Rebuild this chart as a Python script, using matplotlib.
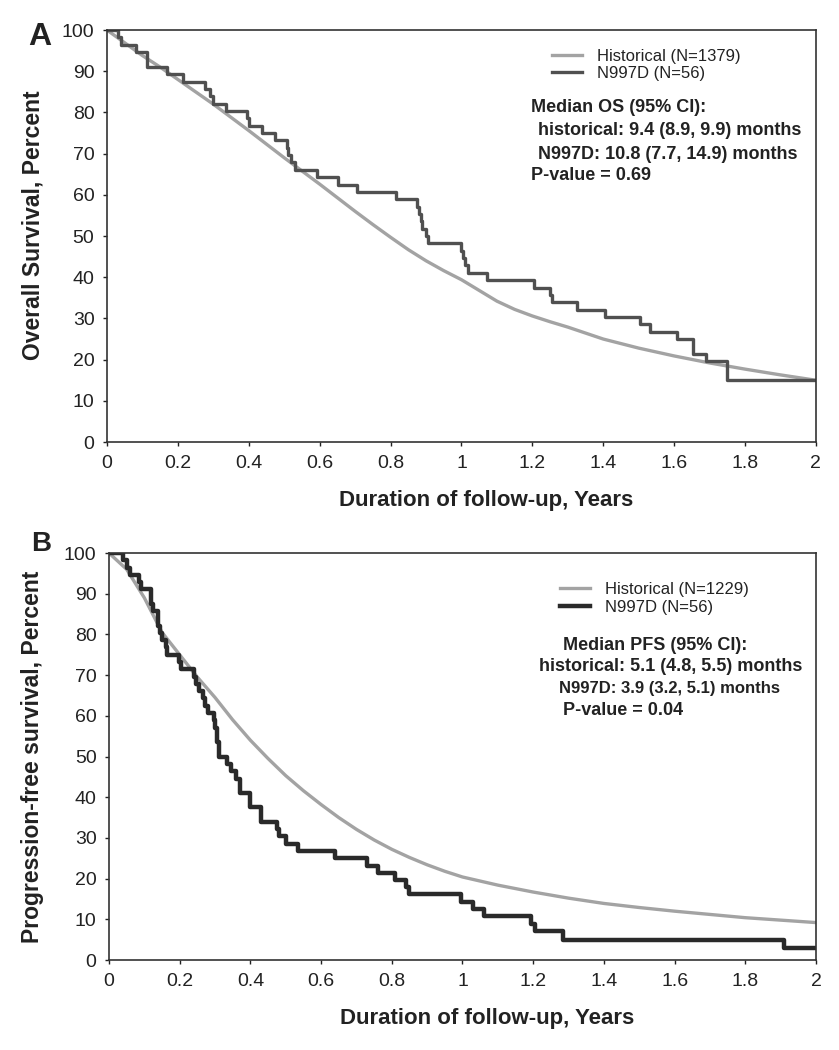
import matplotlib
matplotlib.use("Agg")
import matplotlib.pyplot as plt

plt.rcParams['font.family'] = ['Liberation Sans', 'DejaVu Sans']

# Panel A: overall survival
os_hist_t = [0, 0.05, 0.1, 0.15, 0.2, 0.25, 0.3, 0.35, 0.4, 0.45, 0.5, 0.55, 0.6, 0.65, 0.7, 0.75,
             0.8, 0.85, 0.9, 0.95, 1.0, 1.05, 1.1, 1.15, 1.2, 1.25, 1.3, 1.4, 1.5, 1.6, 1.7, 1.8, 1.9, 2.0]
os_hist_v = [100, 96.9, 93.8, 91, 88, 85, 82, 78.8, 75.6, 72.3, 69, 65.8, 62.6, 59.3, 56, 52.8,
             49.7, 46.7, 44, 41.6, 39.4, 36.8, 34.2, 32.2, 30.6, 29.2, 27.9, 25, 22.8, 20.9, 19.2, 17.7, 16.3, 15.0]

os_n_t = [0, 0.03, 0.04, 0.083, 0.112, 0.168, 0.215, 0.276, 0.29, 0.30,
          0.337, 0.394, 0.40, 0.436, 0.474, 0.507, 0.512, 0.52, 0.53, 0.592,
          0.652, 0.705, 0.815, 0.875, 0.88, 0.885, 0.89, 0.90, 0.905, 1.0,
          1.004, 1.01, 1.019, 1.071, 1.205, 1.25, 1.255, 1.325, 1.405, 1.504,
          1.532, 1.607, 1.654, 1.691, 1.748, 2.0]
os_n_v = [100, 98.2, 96.4, 94.6, 91.1, 89.3, 87.5, 85.7, 83.9, 82.1,
          80.4, 78.6, 76.8, 75.0, 73.2, 71.4, 69.6, 67.9, 66.1, 64.3,
          62.5, 60.7, 58.9, 57.1, 55.4, 53.6, 51.8, 50.0, 48.2, 46.4,
          44.6, 42.9, 41.1, 39.3, 37.5, 35.7, 33.9, 32.1, 30.4, 28.6,
          26.8, 25.0, 21.4, 19.6, 15.0, 15.0]

# Panel B: progression-free survival
pfs_hist_t = [0, 0.05, 0.1, 0.15, 0.2, 0.25, 0.3, 0.35, 0.4, 0.45, 0.5, 0.55, 0.6, 0.65, 0.7, 0.75,
              0.8, 0.85, 0.9, 0.95, 1.0, 1.1, 1.2, 1.3, 1.4, 1.5, 1.6, 1.7, 1.8, 1.9, 2.0]
pfs_hist_v = [100, 96, 89, 80.5, 75, 69.5, 64.5, 59, 54, 49.5, 45.3, 41.6, 38.2, 35, 32.1, 29.5,
              27.2, 25.2, 23.4, 21.8, 20.4, 18.4, 16.7, 15.2, 13.9, 12.9, 12, 11.2, 10.4, 9.8, 9.2]

pfs_n_t = [0, 0.04, 0.05, 0.06, 0.085, 0.09, 0.12, 0.125, 0.14, 0.145,
           0.15, 0.16, 0.165, 0.197, 0.205, 0.24, 0.245, 0.255, 0.265, 0.272,
           0.28, 0.296, 0.30, 0.305, 0.31, 0.333, 0.345, 0.36, 0.37, 0.40,
           0.43, 0.475, 0.48, 0.50, 0.535, 0.64, 0.73, 0.76, 0.81, 0.84,
           0.85, 0.995, 1.03, 1.06, 1.195, 1.205, 1.285, 1.91, 2.0]
pfs_n_v = [100, 98.2, 96.4, 94.6, 92.9, 91.1, 87.5, 85.7, 82.1, 80.4,
           78.6, 76.8, 75.0, 73.2, 71.4, 69.6, 67.9, 66.1, 64.3, 62.5,
           60.7, 58.9, 57.1, 53.6, 50.0, 48.2, 46.4, 44.6, 41.1, 37.5,
           33.9, 32.1, 30.4, 28.6, 26.8, 25.0, 23.2, 21.4, 19.6, 17.9,
           16.1, 14.3, 12.5, 10.7, 8.9, 7.1, 5.0, 3.0, 3.0]

xticks = [0, 0.2, 0.4, 0.6, 0.8, 1, 1.2, 1.4, 1.6, 1.8, 2]
xticklabels = ["0", "0.2", "0.4", "0.6", "0.8", "1", "1.2", "1.4", "1.6", "1.8", "2"]
yticks = list(range(0, 101, 10))

txt = '#222222'
hist_col = '#a3a3a3'

fig = plt.figure(figsize=(8.39, 10.5), dpi=100)
axA = fig.add_axes([0.1275, 0.579, 0.845, 0.3924])
axB = fig.add_axes([0.1299, 0.0857, 0.8427, 0.3876])


def style(ax, ylabel, ylab_x, ylab_y):
    ax.set_xlim(0, 2)
    ax.set_ylim(0, 100)
    ax.set_xticks(xticks)
    ax.set_xticklabels(xticklabels)
    ax.set_yticks(yticks)
    ax.tick_params(direction='out', length=3, width=1, labelsize=14, colors=txt, pad=6)
    for s in ax.spines.values():
        s.set_linewidth(1.2)
        s.set_color('#333333')
    ax.set_ylabel(ylabel, fontsize=16.5, fontweight='bold', color=txt)
    ax.yaxis.set_label_coords(ylab_x, ylab_y)
    ax.set_xlabel("Duration of follow-up, Years", fontsize=16, fontweight='bold', color=txt)
    ax.xaxis.set_label_coords(0.535, -0.117)


# ---- A ----
axA.plot(os_hist_t, os_hist_v, color=hist_col, lw=2.4, label="Historical (N=1379)")
axA.step(os_n_t, os_n_v, where='post', color='#505050', lw=2.4, label="N997D (N=56)")
style(axA, "Overall Survival, Percent", -0.0875, 0.527)
axA.legend(loc='upper left', bbox_to_anchor=(0.628, 0.955), frameon=False, fontsize=12,
           handlelength=1.8, handletextpad=0.9, labelspacing=0.15, borderpad=0, borderaxespad=0,
           labelcolor=txt)
for x, y, s in [(0.598, 0.811, "Median OS (95% CI):"),
                (0.608, 0.757, "historical: 9.4 (8.9, 9.9) months"),
                (0.608, 0.697, "N997D: 10.8 (7.7, 14.9) months"),
                (0.598, 0.646, "P-value = 0.69")]:
    axA.text(x, y, s, transform=axA.transAxes, fontsize=13, fontweight='bold',
             color=txt, va='center', ha='left')
fig.text(40 / 839, 1 - 37 / 1050, "A", fontsize=23, fontweight='bold', color=txt,
         ha='center', va='center')

# ---- B ----
axB.plot(pfs_hist_t, pfs_hist_v, color=hist_col, lw=2.4, label="Historical (N=1229)")
axB.step(pfs_n_t, pfs_n_v, where='post', color='#2a2a2a', lw=3.2, label="N997D (N=56)")
style(axB, "Progression-free survival, Percent", -0.092, 0.5)
axB.legend(loc='upper left', bbox_to_anchor=(0.638, 0.93), frameon=False, fontsize=12,
           handlelength=1.8, handletextpad=0.9, labelspacing=0.2, borderpad=0, borderaxespad=0,
           labelcolor=txt)
for x, y, s, fs in [(0.642, 0.774, "Median PFS (95% CI):", 13),
                    (0.608, 0.720, "historical: 5.1 (4.8, 5.5) months", 13),
                    (0.636, 0.666, "N997D: 3.9 (3.2, 5.1) months", 12),
                    (0.642, 0.614, "P-value = 0.04", 13)]:
    axB.text(x, y, s, transform=axB.transAxes, fontsize=fs, fontweight='bold',
             color=txt, va='center', ha='left')
fig.text(41 / 839, 1 - 544 / 1050, "B", fontsize=20, fontweight='bold', color=txt,
         ha='center', va='center')

fig.savefig("out.png", dpi=100)
